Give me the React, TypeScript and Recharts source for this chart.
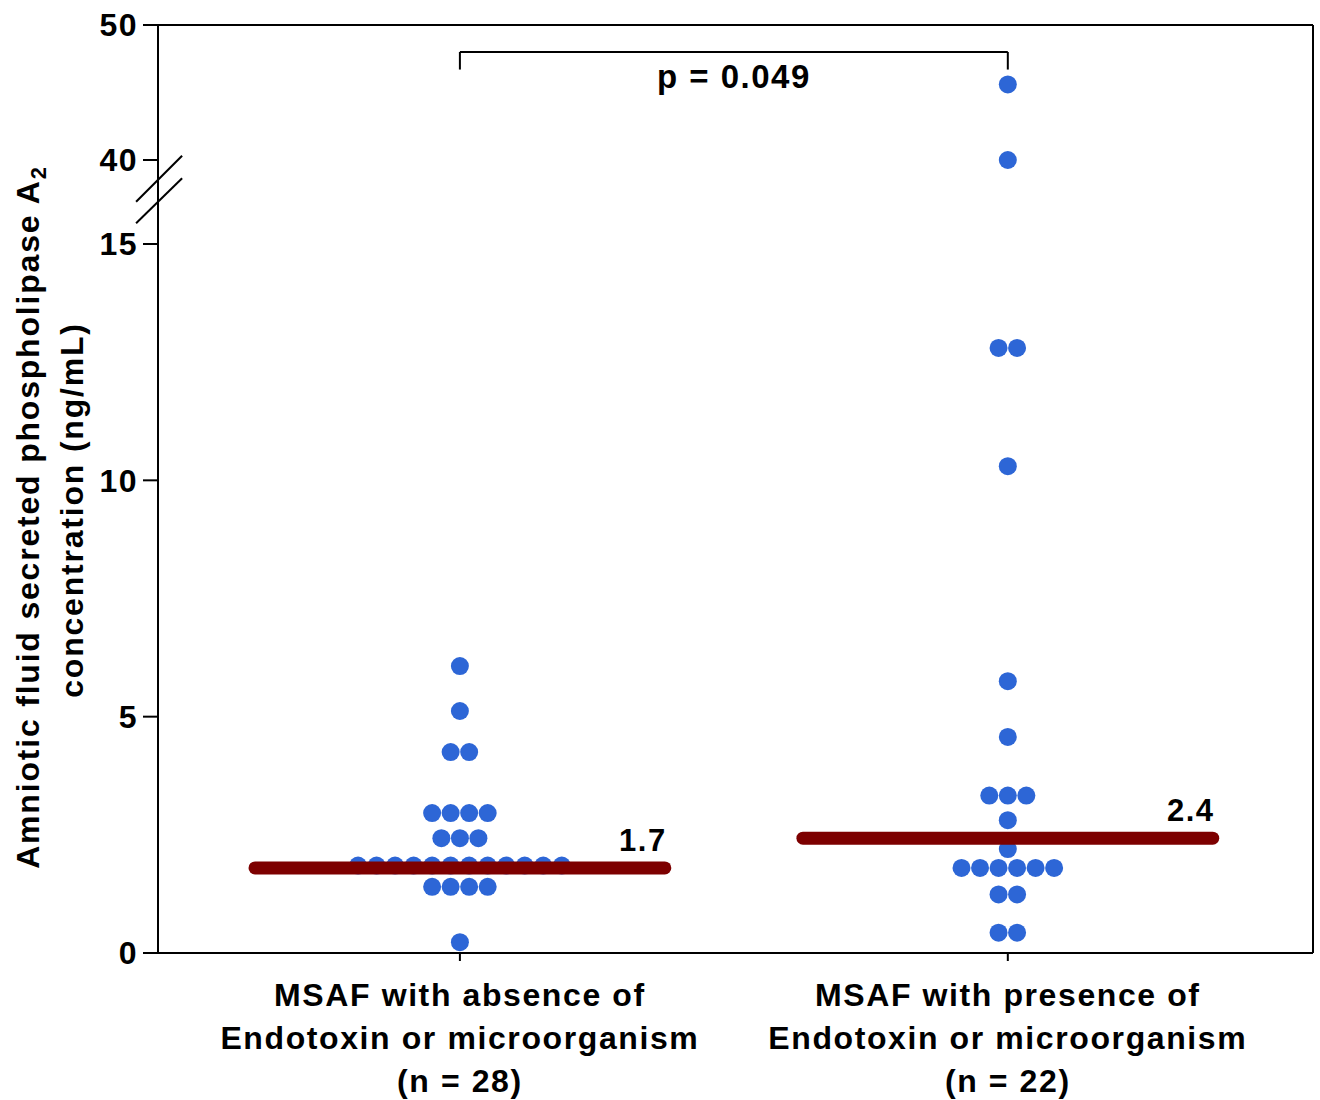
import React from "react";
import { ScatterChart, Scatter, XAxis, YAxis, ReferenceLine, ReferenceDot, Label } from "recharts";

const FONT = "'Liberation Sans', Arial, Helvetica, sans-serif";

// categories and their (two-line) labels; n is counted from the data
const categoryLines = [
  ["MSAF with absence of", "Endotoxin or microorganism"],
  ["MSAF with presence of", "Endotoxin or microorganism"],
];

// sPLA2 concentration, ng/mL
const absenceValues = [
  6.07, 5.12, 4.25, 4.25, 2.96, 2.96, 2.96, 2.96, 2.43, 2.43, 2.43,
  1.85, 1.85, 1.85, 1.85, 1.85, 1.85, 1.85, 1.85, 1.85, 1.85, 1.85, 1.85,
  1.4, 1.4, 1.4, 1.4, 0.23,
];
const presenceValues = [
  45.6, 40.0, 12.8, 12.8, 10.3, 5.75, 4.57, 3.33, 3.33, 3.33, 2.81, 2.2,
  1.8, 1.8, 1.8, 1.8, 1.8, 1.8, 1.24, 1.24, 0.43, 0.43,
];
const medianValues = [1.8, 2.43];
const medianLabels = ["1.7", "2.4"];
const yTickValues = [0, 5, 10, 15, 40, 50];
const pValueText = "p = 0.049";

// broken y axis: 0-15 full scale, gap, then 40-50 compressed
const BREAK_LOW = 15;
const BREAK_HIGH = 40;
const GAP = 1.777;
const UPPER_RATIO = 0.2856;
const toAxis = (v: number) => (v <= BREAK_LOW ? v : BREAK_LOW + GAP + (v - BREAK_HIGH) * UPPER_RATIO);

const X_MIN = -0.551;
const X_MAX = 1.557;
const DOT_STEP = 0.0338;
const MEDIAN_HALF = 0.374;
const LABEL_SHIFT = 0.334;

// simple dot-plot layout: equal values spread side by side around the group centre
function swarm(values: number[], group: number) {
  const counts: Record<string, number> = {};
  values.forEach((v) => (counts[v] = (counts[v] || 0) + 1));
  const seen: Record<string, number> = {};
  return values.map((v) => {
    const k = counts[v];
    const i = seen[v] || 0;
    seen[v] = i + 1;
    return { x: group + (i - (k - 1) / 2) * DOT_STEP, y: toAxis(v), value: v };
  });
}

const groups = [absenceValues, presenceValues];
const swarmData = groups.map((vals, g) => swarm(vals, g));
const medianData = medianValues.map((m, g) => [
  { x: g - MEDIAN_HALF, y: m },
  { x: g + MEDIAN_HALF, y: m },
]);

const Dot = (props: any) => <circle cx={props.cx} cy={props.cy} r={9} fill="#2d66d6" />;
const NoShape = () => <g />;

const XTick = (props: any) => {
  const { x, y, payload } = props;
  const g = payload.value as number;
  const lines = [...categoryLines[g], `(n = ${groups[g].length})`];
  return (
    <text x={x} y={y} textAnchor="middle" fill="#000" fontFamily={FONT} fontWeight={700} fontSize={32} letterSpacing={1.6}>
      {lines.map((l, i) => (
        <tspan key={i} x={x} dy={43}>
          {l}
        </tspan>
      ))}
    </text>
  );
};

const YLabel = (props: any) => {
  const vb = props.viewBox;
  const cy = vb.y + vb.height / 2 + 28;
  const x1 = vb.x - 39;
  const x2 = vb.x + 5;
  const common = { fill: "#000", fontFamily: FONT, fontWeight: 700, fontSize: 32, letterSpacing: 1.8, textAnchor: "middle" as const };
  return (
    <g>
      <text {...common} x={x1} y={cy} transform={`rotate(-90 ${x1} ${cy})`}>
        Amniotic fluid secreted phospholipase A
        <tspan fontSize={22} dy={7}>2</tspan>
      </text>
      <text {...common} x={x2} y={cy - 7} transform={`rotate(-90 ${x2} ${cy - 7})`}>
        concentration (ng/mL)
      </text>
    </g>
  );
};

const textLabel = (value: string, lift: number, size: number) => (props: any) => {
  const vb = props.viewBox;
  const cx = vb.x + vb.width / 2;
  const cy = vb.y + vb.height / 2;
  return (
    <text x={cx} y={cy - lift} textAnchor="middle" fill="#000" fontFamily={FONT} fontWeight={700} fontSize={size} letterSpacing={1.5}>
      {value}
    </text>
  );
};

const BRACKET_TOP = 48;
const BRACKET_DROP = 46.7;
const black = { stroke: "#000", strokeWidth: 2 };

export default function App() {
  return (
    <div style={{ position: "absolute", left: 0, top: 0, background: "#fff" }}>
      <ScatterChart width={1320} height={1100} margin={{ top: 25, right: 7, bottom: 7, left: 78 }}>
        <XAxis
          type="number"
          dataKey="x"
          domain={[X_MIN, X_MAX]}
          allowDataOverflow
          ticks={[0, 1]}
          interval={0}
          tick={<XTick />}
          tickSize={8}
          height={140}
          axisLine={black}
          tickLine={black}
        />
        <YAxis
          type="number"
          dataKey="y"
          domain={[0, toAxis(50)]}
          allowDataOverflow
          ticks={yTickValues.map(toAxis)}
          interval={0}
          tickFormatter={(_v: number, i: number) => String(yTickValues[i])}
          width={80}
          tickSize={15}
          tickMargin={5}
          axisLine={black}
          tickLine={black}
          tick={{ fill: "#000", fontSize: 32, fontWeight: 700, fontFamily: FONT, letterSpacing: 1.5 }}
        >
          <Label content={<YLabel />} />
        </YAxis>

        <ReferenceLine y={toAxis(50)} {...black} ifOverflow="visible" />
        <ReferenceLine x={X_MAX} {...black} ifOverflow="visible" />

        {swarmData.map((d, g) => (
          <Scatter key={g} data={d} shape={<Dot />} isAnimationActive={false} />
        ))}

        {/* median bars drawn over the dots */}
        {medianData.map((d, g) => (
          <Scatter
            key={`m${g}`}
            data={d}
            shape={<NoShape />}
            line={{ stroke: "#7d0000", strokeWidth: 13, strokeLinecap: "round" }}
            isAnimationActive={false}
          />
        ))}
        {medianValues.map((m, g) => (
          <ReferenceDot
            key={`ml${g}`}
            x={g + LABEL_SHIFT}
            y={m}
            r={1}
            fill="none"
            stroke="none"
            ifOverflow="visible"
            label={textLabel(medianLabels[g], 17, 31)}
          />
        ))}

        {/* significance bracket */}
        <ReferenceLine segment={[{ x: 0, y: toAxis(BRACKET_TOP) }, { x: 1, y: toAxis(BRACKET_TOP) }]} {...black} ifOverflow="visible" />
        <ReferenceLine segment={[{ x: 0, y: toAxis(BRACKET_TOP) }, { x: 0, y: toAxis(BRACKET_DROP) }]} {...black} ifOverflow="visible" />
        <ReferenceLine segment={[{ x: 1, y: toAxis(BRACKET_TOP) }, { x: 1, y: toAxis(BRACKET_DROP) }]} {...black} ifOverflow="visible" />
        <ReferenceDot x={0.5} y={toAxis(45.3)} r={1} fill="none" stroke="none" ifOverflow="visible" label={textLabel(pValueText, 0, 33)} />

        {/* axis break marks */}
        <ReferenceLine segment={[{ x: -0.591, y: 15.894 }, { x: -0.507, y: 16.867 }]} {...black} ifOverflow="visible" />
        <ReferenceLine segment={[{ x: -0.591, y: 15.437 }, { x: -0.507, y: 16.389 }]} {...black} ifOverflow="visible" />
      </ScatterChart>
    </div>
  );
}
